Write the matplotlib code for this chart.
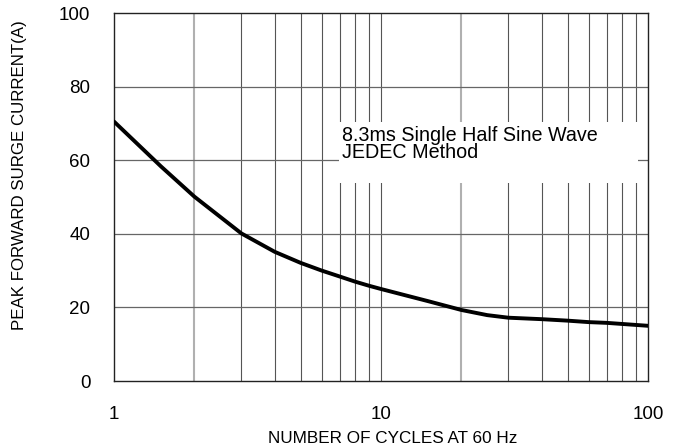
import matplotlib
matplotlib.use("Agg")
import matplotlib.pyplot as plt
from matplotlib.patches import Rectangle
from matplotlib.ticker import FixedLocator, NullFormatter

plt.rcParams['font.family'] = ['Liberation Sans', 'DejaVu Sans']

cycles = [1, 1.5, 2, 3, 4, 5, 6, 7, 8, 9, 10, 15, 20, 25, 30, 40, 50, 60, 70, 80, 100]
current = [70.5, 58.3, 50.1, 40.1, 35.1, 32.1, 30.0, 28.4, 27.0, 25.9, 25.0, 21.7, 19.3,
           17.9, 17.2, 16.8, 16.4, 16.0, 15.8, 15.5, 15.0]

x_ticks = [1, 10, 100]
x_tick_labels = ["1", "10", "100"]
y_ticks = [0, 20, 40, 60, 80, 100]
minor_x = [2, 3, 4, 5, 6, 7, 8, 9, 20, 30, 40, 50, 60, 70, 80, 90]
light_x = [2, 20]

xlabel = "NUMBER OF CYCLES AT 60 Hz"
ylabel = "PEAK FORWARD SURGE CURRENT(A)"
note = "8.3ms Single Half Sine Wave\nJEDEC Method"

fig = plt.figure(figsize=(6.77, 4.48), dpi=100)
ax = fig.add_axes([114/677, 1-381/448, (648-114)/677, (381-13)/448])
ax.set_xscale('log')
ax.set_xlim(1, 100)
ax.set_ylim(0, 100)

for xv in minor_x:
    if xv in light_x:
        ax.axvline(xv, color='#b0b0b0', lw=1.5, zorder=1)
    else:
        ax.axvline(xv, color='#555555', lw=0.8, zorder=1)
ax.axvline(10, color='#555555', lw=0.8, zorder=1)
for yv in y_ticks[1:-1]:
    ax.axhline(yv, color='#666666', lw=0.9, zorder=1)

ax.add_patch(Rectangle((6.96, 53.8), 91.7-6.96, 70.4-53.8, facecolor='white',
                       edgecolor='none', zorder=2))
ax.text(7.15, 64.4, note, fontsize=14.2, va='center', ha='left',
        linespacing=0.82, zorder=3, color='black')

ax.plot(cycles, current, color='black', lw=2.8, zorder=4, solid_capstyle='round',
        solid_joinstyle='round')

ax.xaxis.set_major_locator(FixedLocator(x_ticks))
ax.set_xticklabels(x_tick_labels)
ax.xaxis.set_minor_locator(FixedLocator(minor_x))
ax.xaxis.set_minor_formatter(NullFormatter())
ax.set_yticks(y_ticks)
ax.tick_params(axis='both', which='both', length=0, labelsize=13.5)
ax.tick_params(axis='x', pad=18)
ax.tick_params(axis='y', pad=17)

for s in ax.spines.values():
    s.set_color('#222222')
    s.set_linewidth(1.0)

fig.text(393/677, 1-438/448, xlabel, fontsize=12.3, ha='center', va='center')
fig.text(20/677, 1-175/448, ylabel, fontsize=12.2, ha='center', va='center', rotation=90)

fig.savefig("out.png", dpi=100)
